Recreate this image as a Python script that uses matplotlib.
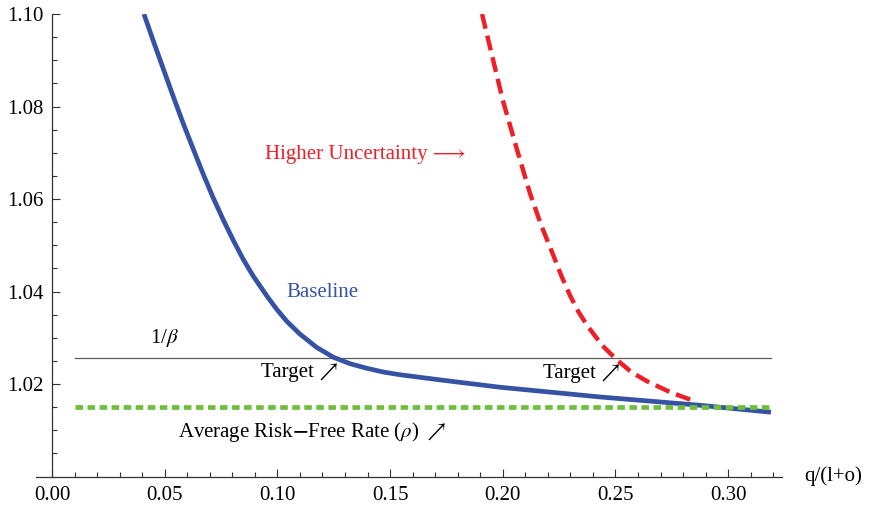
import numpy as np
import matplotlib.pyplot as plt
from matplotlib.ticker import MultipleLocator, FormatStrFormatter

plt.rcParams['font.family'] = ['Liberation Serif', 'STIXGeneral', 'DejaVu Sans']
plt.rcParams['mathtext.fontset'] = 'stix'

# Базовый сценарий
x_base = [0.0408, 0.0448, 0.0492, 0.0537, 0.0581, 0.0626, 0.0670, 0.0714, 0.0759,
          0.0803, 0.0847, 0.0892, 0.0954, 0.0998, 0.1041, 0.1100, 0.1175, 0.1248,
          0.1322, 0.1397, 0.1469, 0.1544, 0.1720, 0.1988, 0.2431, 0.2875, 0.3190]
y_base = [1.1000, 1.0944, 1.0884, 1.0823, 1.0765, 1.0709, 1.0655, 1.0604, 1.0556,
          1.0512, 1.0471, 1.0434, 1.0390, 1.0361, 1.0336, 1.0308, 1.0279, 1.0258,
          1.0244, 1.0234, 1.0226, 1.0220, 1.0209, 1.0193, 1.0172, 1.0154, 1.0139]

# Высокая неопределённость
x_high = [0.1908, 0.2000, 0.2060, 0.2121, 0.2170, 0.2223, 0.2260, 0.2298, 0.2336,
          0.2374, 0.2440, 0.2507, 0.2570, 0.2640, 0.2740, 0.2860]
y_high = [1.1000, 1.0814, 1.0712, 1.0612, 1.0544, 1.0480, 1.0434, 1.0392, 1.0356,
          1.0327, 1.0284, 1.0252, 1.0226, 1.0206, 1.0183, 1.0161]

# Горизонтальные уровни
x_range = [0.01, 0.319]
inv_beta = 1.0257
rho = 1.0151

fig = plt.figure(figsize=(8.69, 5.08), dpi=100)
ax = fig.add_axes([0.0414, 0.062, 0.8585, 0.9104])

ax.plot(x_range, [inv_beta, inv_beta], color='#5a5a5a', lw=0.9, zorder=2)
ax.plot(x_high, y_high, color='#ee1f26', lw=3.2, dashes=(3.4, 1.6), zorder=3)
ax.plot(x_base, y_base, color='#3552a5', lw=3.4, zorder=4, solid_capstyle='butt')
ax.plot(x_range, [rho, rho], color='#6cc03c', lw=3.4, dashes=(1.6, 0.95), zorder=5)

ax.set_xlim(-0.0071, 0.3239)
ax.set_ylim(1.0, 1.10)

# Оси в стиле Mathematica
ax.spines['top'].set_visible(False)
ax.spines['right'].set_visible(False)
ax.spines['left'].set_position(('data', 0))
for s in ['left', 'bottom']:
    ax.spines[s].set_color('#333333')
    ax.spines[s].set_linewidth(0.9)

ax.xaxis.set_minor_locator(MultipleLocator(0.01))
ax.yaxis.set_minor_locator(MultipleLocator(0.005))
ax.set_xticks([0.0, 0.05, 0.10, 0.15, 0.20, 0.25, 0.30])
ax.set_yticks([1.02, 1.04, 1.06, 1.08, 1.10])
ax.xaxis.set_major_formatter(FormatStrFormatter('%.2f'))
ax.yaxis.set_major_formatter(FormatStrFormatter('%.2f'))
ax.tick_params(which='both', direction='in', color='#333333', width=0.8)
ax.tick_params(which='major', length=6)
ax.tick_params(which='minor', length=3.5)
ax.tick_params(axis='x', which='major', labelsize=15, pad=7)
ax.tick_params(axis='y', which='major', labelsize=15, pad=6)

fs = 15
ax.text(0.3465, 1.0, 'q/(l+o)', fontsize=fs, ha='center', va='center', clip_on=False)

ax.text(0.1389, 1.0696, 'Higher Uncertainty \u27f6', color='#ee1f26', fontsize=fs,
        ha='center', va='center')
ax.text(0.1198, 1.0398, 'Baseline', color='#3552a5', fontsize=fs, ha='center', va='center')
ax.text(0.0497, 1.0299, r'1/$\beta$', fontsize=fs, ha='center', va='center')
ax.text(0.1098, 1.0225, 'Target \u2197', fontsize=fs, ha='center', va='center')
ax.text(0.2351, 1.0223, 'Target \u2197', fontsize=fs, ha='center', va='center')
ax.text(0.1153, 1.0096, r'Average Risk$\mathbf{-}$Free Rate ($\rho$) $\nearrow$', fontsize=fs,
        ha='center', va='center')

fig.savefig('out.png', dpi=100)
